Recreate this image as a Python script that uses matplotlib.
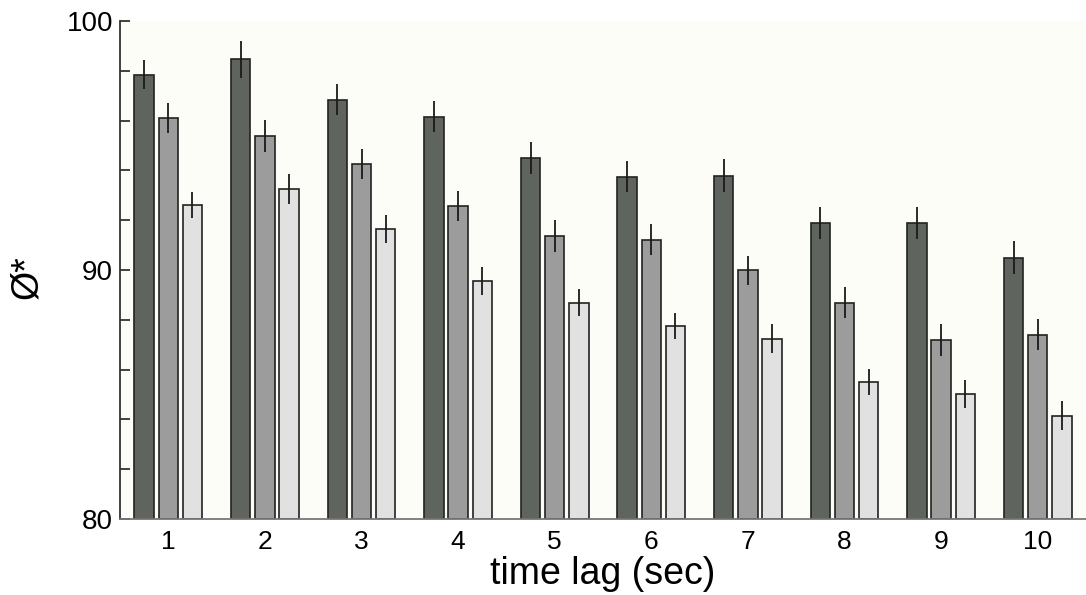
import numpy as np
import matplotlib
matplotlib.use('Agg')
import matplotlib.pyplot as plt

plt.rcParams['font.family'] = ['Liberation Sans', 'DejaVu Sans']

lags = np.arange(1, 11)

# three conditions, dark -> light
dark_vals = [97.84, 98.46, 96.84, 96.16, 94.49, 93.75, 93.79, 91.89, 91.90, 90.49]
dark_err = [0.58, 0.73, 0.62, 0.62, 0.65, 0.63, 0.65, 0.64, 0.65, 0.66]
mid_vals = [96.09, 95.38, 94.26, 92.58, 91.37, 91.22, 89.99, 88.69, 87.19, 87.40]
mid_err = [0.60, 0.66, 0.60, 0.60, 0.63, 0.63, 0.58, 0.61, 0.64, 0.62]
light_vals = [92.61, 93.24, 91.63, 89.56, 88.69, 87.75, 87.24, 85.51, 85.02, 84.15]
light_err = [0.52, 0.60, 0.56, 0.57, 0.55, 0.53, 0.59, 0.51, 0.56, 0.58]

series = [(dark_vals, dark_err, '#5f645e'),
          (mid_vals, mid_err, '#9c9c9c'),
          (light_vals, light_err, '#e1e1e1')]

fig = plt.figure(figsize=(10.86, 5.95), dpi=100)
ax = fig.add_axes([0.1105, 0.1277, 0.8895, 0.837])
ax.set_facecolor('#fdfdf7')

offsets = [-0.25, 0.0, 0.25]
for (vals, err, col), off in zip(series, offsets):
    ax.bar(lags + off, np.array(vals) - 80, width=0.2, bottom=80,
           color=col, edgecolor='#222222', linewidth=1.2, zorder=2)
    ax.errorbar(lags + off, vals, yerr=err, fmt='none', ecolor='#1a1a1a',
                elinewidth=1.3, capsize=0, zorder=3)

ax.set_xlim(0.5, 10.5)
ax.set_ylim(80, 100)
ax.set_xticks(lags)
ax.set_xticklabels([str(v) for v in lags], fontsize=19)
ax.set_yticks([80, 90, 100])
ax.set_yticklabels(['80', '90', '100'], fontsize=20)
ax.set_yticks(np.arange(80, 101, 2), minor=True)
ax.tick_params(axis='y', which='both', direction='in', length=7, width=1.3,
               color='#333333', pad=5)
ax.tick_params(axis='x', length=0, pad=8)

for s in ['top', 'right']:
    ax.spines[s].set_visible(False)
ax.spines['left'].set_color('#333333')
ax.spines['left'].set_linewidth(1.3)
ax.spines['bottom'].set_color('#777777')
ax.spines['bottom'].set_linewidth(1.3)

ax.set_xlabel('time lag (sec)', fontsize=27, labelpad=1)
fig.text(0.025, 0.535, 'Ø*', rotation=90, fontsize=27, ha='center', va='center')

fig.savefig('out.png', dpi=100)
